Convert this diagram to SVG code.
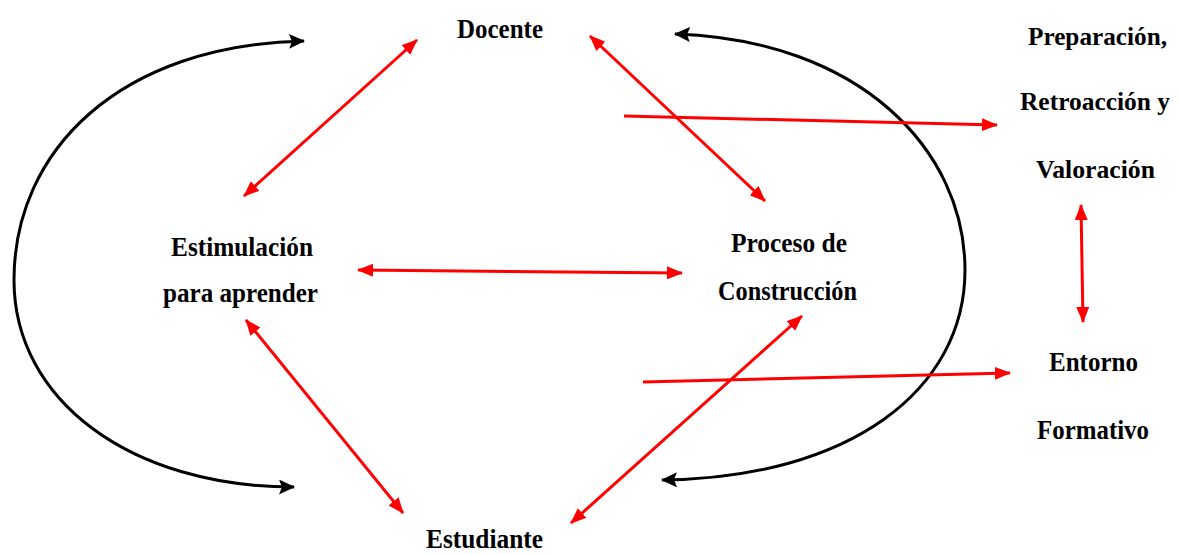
<svg xmlns="http://www.w3.org/2000/svg" width="1179" height="554" viewBox="0 0 1179 554">
<defs>
<style>
.t{font-family:"Liberation Serif","Times New Roman",serif;font-weight:bold;font-size:28px;fill:#000;}
.s{font-size:26px;}
.rd{stroke:#ff0000;stroke-width:3;fill:none;marker-start:url(#ra);marker-end:url(#ra);}
.rs{stroke:#ff0000;stroke-width:3;fill:none;marker-end:url(#ra);}
.k{stroke:#000;stroke-width:3;fill:none;marker-start:url(#ka);marker-end:url(#ka);}
</style>
<marker id="ra" viewBox="0 0 16 13" refX="15" refY="6.5" markerWidth="16" markerHeight="13" markerUnits="userSpaceOnUse" orient="auto-start-reverse">
<path d="M0,0 L16,6.5 L0,13 z" fill="#ff0000"/>
</marker>
<marker id="ka" viewBox="0 0 16 15" refX="15" refY="7.5" markerWidth="16" markerHeight="15" markerUnits="userSpaceOnUse" orient="auto-start-reverse">
<path d="M0,0 L16,7.5 L0,15 L3,7.5 z" fill="#000"/>
</marker>
</defs>
<rect width="1179" height="554" fill="#fff"/>
<g id="connectors">
<path class="k" d="M304,41 C120,45 14,150 14,280 C14,400 130,487 294,487"/>
<path class="k" d="M675,34 C860,40 965,150 965,270 C965,390 850,478 662,480"/>
<line class="rd" x1="417" y1="40" x2="244" y2="196"/>
<line class="rd" x1="590" y1="36" x2="765" y2="201"/>
<line class="rd" x1="358" y1="270" x2="682" y2="273"/>
<line class="rd" x1="246" y1="320" x2="403" y2="513"/>
<line class="rd" x1="802" y1="316" x2="571" y2="523"/>
<line class="rs" x1="624" y1="116" x2="997" y2="125"/>
<line class="rs" x1="643" y1="382" x2="1010" y2="373"/>
<line class="rd" x1="1081" y1="205" x2="1083" y2="322"/>
</g>
<g id="docente"><text class="t" x="457" y="38" textLength="86" lengthAdjust="spacingAndGlyphs">Docente</text></g>
<g id="estimulacion">
<text class="t" x="171" y="256" textLength="142" lengthAdjust="spacingAndGlyphs">Estimulación</text>
<text class="t" x="163" y="302" textLength="155" lengthAdjust="spacingAndGlyphs">para aprender</text>
</g>
<g id="proceso">
<text class="t" x="731" y="252" textLength="116" lengthAdjust="spacingAndGlyphs">Proceso de</text>
<text class="t" x="718" y="300" textLength="139" lengthAdjust="spacingAndGlyphs">Construcción</text>
</g>
<g id="preparacion">
<text class="t s" x="1028" y="45" textLength="139" lengthAdjust="spacingAndGlyphs">Preparación,</text>
<text class="t s" x="1020" y="110" textLength="150" lengthAdjust="spacingAndGlyphs">Retroacción y</text>
<text class="t s" x="1036" y="178" textLength="119" lengthAdjust="spacingAndGlyphs">Valoración</text>
</g>
<g id="entorno">
<text class="t" x="1049" y="371" textLength="89" lengthAdjust="spacingAndGlyphs">Entorno</text>
<text class="t" x="1037" y="439" textLength="112" lengthAdjust="spacingAndGlyphs">Formativo</text>
</g>
<g id="estudiante"><text class="t" x="426" y="548" textLength="117" lengthAdjust="spacingAndGlyphs">Estudiante</text></g>
</svg>
